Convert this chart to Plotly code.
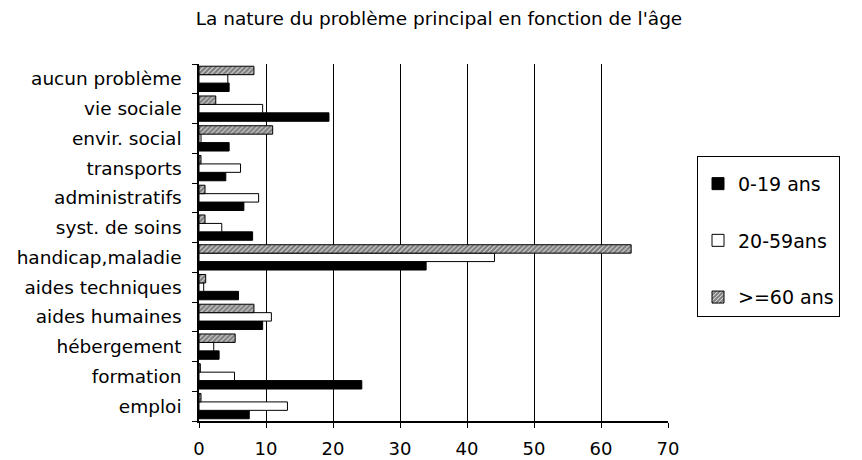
import plotly.graph_objects as go

categories = ["emploi", "formation", "hébergement", "aides humaines", "aides techniques",
              "handicap,maladie", "syst. de soins", "administratifs", "transports",
              "envir. social", "vie sociale", "aucun problème"]
age_0_19 = [7.5, 24.3, 3.0, 9.5, 5.9, 33.9, 8.0, 6.7, 4.0, 4.5, 19.4, 4.5]
age_20_59 = [13.2, 5.3, 2.2, 10.8, 0.7, 44.1, 3.4, 8.9, 6.2, 0.3, 9.5, 4.3]
age_60_plus = [0.3, 0.2, 5.4, 8.2, 1.0, 64.5, 0.9, 0.9, 0.3, 11.0, 2.5, 8.2]
series_names = ["0-19 ans", "20-59ans", ">=60 ans"]
x_ticks = [0, 10, 20, 30, 40, 50, 60, 70]

FONT = "DejaVu Sans"
OFF = 8  # page body margin offset

fig = go.Figure()
fig.add_trace(go.Bar(y=categories, x=age_0_19, name=series_names[0], orientation="h",
                     legendgroup="a",
                     marker=dict(color="black", line=dict(color="black", width=1))))
fig.add_trace(go.Bar(y=categories, x=age_20_59, name=series_names[1], orientation="h",
                     legendgroup="b",
                     marker=dict(color="white", line=dict(color="black", width=1))))
fig.add_trace(go.Bar(y=categories, x=age_60_plus, name=series_names[2], orientation="h",
                     legendgroup="c",
                     marker=dict(color="white", line=dict(color="black", width=1),
                                 pattern=dict(shape="/", fgcolor="black", bgcolor="white",
                                              size=3.5, solidity=0.8, fillmode="overlay"))))

W, H = 862, 460
L = 199 - OFF
T = 64 - OFF
R = W - (668 - OFF)
B = H - (421 - OFF)
pw = W - L - R
ph = H - T - B

fig.update_layout(
    width=W, height=H,
    margin=dict(l=L, r=R, t=T, b=B, autoexpand=False),
    paper_bgcolor="white", plot_bgcolor="white",
    barmode="group", bargap=0.15, bargroupgap=0,
    font=dict(family=FONT, color="black"),
    title=dict(text="La nature du problème principal en fonction de l'âge",
               x=0.5, xanchor="center", y=1 - 4.5 / H, yanchor="top",
               font=dict(size=18.5, family=FONT, color="black")),
    showlegend=True,
    legend=dict(x=(697 - OFF - L) / pw, xanchor="left",
                y=(H - B - (156 - OFF)) / ph, yanchor="top",
                bordercolor="black", borderwidth=1, bgcolor="white",
                font=dict(size=19, family=FONT, color="black"),
                title=dict(text=" ", font=dict(size=6)),
                traceorder="grouped", tracegroupgap=29,
                itemclick=False),
    xaxis=dict(range=[0, 70], tickvals=x_ticks, ticktext=[str(v) for v in x_ticks],
               showgrid=True, gridcolor="black", gridwidth=1,
               showline=True, linecolor="black", linewidth=1.5,
               ticks="outside", ticklen=5, tickcolor="black",
               ticklabelstandoff=6, automargin=False,
               tickfont=dict(size=18, family=FONT, color="black"),
               zeroline=False, fixedrange=True),
    yaxis=dict(categoryorder="array", categoryarray=categories,
               showgrid=False, showline=True, linecolor="black", linewidth=1.5,
               ticks="outside", ticklen=5, tickcolor="black", tickson="boundaries",
               ticklabelstandoff=12, automargin=False,
               tickfont=dict(size=18.5, family=FONT, color="black"),
               fixedrange=True),
)

fig.write_html("out.html")
